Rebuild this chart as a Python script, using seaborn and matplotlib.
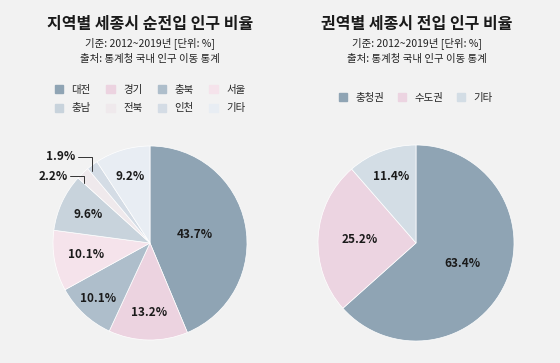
import numpy as np
import matplotlib
matplotlib.use('Agg')
import matplotlib.pyplot as plt
import matplotlib.patches as mpatches
import seaborn as sns

# data
left_title = '지역별 세종시 순전입 인구 비율'
right_title = '권역별 세종시 전입 인구 비율'
sub1 = '기준: 2012~2019년 [단위: %]'
sub2 = '출처: 통계청 국내 인구 이동 통계'

regions = ['대전', '경기', '충북', '서울', '충남', '전북', '인천', '기타']
region_pct = [43.7, 13.2, 10.1, 10.1, 9.6, 2.2, 1.9, 9.2]
region_colors = ['#8fa4b4', '#ecd3e0', '#aebecb', '#f5e3eb',
                 '#c8d3dc', '#efe9ec', '#d4dce5', '#e8edf3']

areas = ['충청권', '수도권', '기타']
area_pct = [63.4, 25.2, 11.4]
area_colors = ['#8fa4b4', '#ecd4e1', '#d3dde5']

bg = '#f2f2f2'
sns.set_theme(style='white', rc={'figure.facecolor': bg, 'axes.facecolor': bg})
plt.rcParams['font.family'] = ['Noto Sans CJK KR', 'DejaVu Sans']

fig = plt.figure(figsize=(5.6, 3.63), dpi=100)


def draw_pie(ax, vals, colors, label_r, small=()):
    ax.pie(vals, colors=colors, startangle=90, counterclock=False,
           wedgeprops=dict(edgecolor='white', linewidth=0.5))
    ax.set_xlim(-1, 1)
    ax.set_ylim(-1, 1)
    ax.set_aspect('equal')
    cum = np.cumsum([0] + list(vals))
    for i, v in enumerate(vals):
        if i in small:
            continue
        mid = 90 - 360 * (cum[i] + v / 2) / 100
        r = label_r[i]
        ax.text(r * np.cos(np.radians(mid)), r * np.sin(np.radians(mid)),
                f'{v}%', ha='center', va='center', fontsize=8.5,
                fontweight='bold', color='#1a1a1a')


# left pie
ax1 = fig.add_axes([(150 - 97) / 560, (363 - 340) / 363, 194 / 560, 194 / 363])
draw_pie(ax1, region_pct, region_colors,
         [0.47, 0.72, 0.78, 0.67, 0.70, 0, 0, 0.72], small=(5, 6))
# leader labels for the two thin slices
for idx, (tx, ty, lx, ly) in {6: (-0.77, 0.89, -0.60, 0.74),
                              5: (-0.85, 0.69, -0.68, 0.62)}.items():
    ax1.text(tx, ty, f'{region_pct[idx]}%', ha='right', va='center',
             fontsize=8.5, fontweight='bold', color='#1a1a1a')
    ax1.plot([tx + 0.03, lx, lx], [ty, ty, ly], color='#333333', lw=0.7,
             clip_on=False)

# right pie
ax2 = fig.add_axes([318 / 560, (363 - 341) / 363, 196 / 560, 196 / 363])
draw_pie(ax2, area_pct, area_colors, [0.52, 0.58, 0.72])

# titles
for cx, t in [(150, left_title), (417, right_title)]:
    fig.text(cx / 560, 1 - 24 / 363, t, ha='center', va='center',
             fontsize=11.5, fontweight='bold', color='#1a1a1a')
    fig.text(cx / 560, 1 - 43 / 363, sub1, ha='center', va='center',
             fontsize=7.5, color='#222222')
    fig.text(cx / 560, 1 - 59 / 363, sub2, ha='center', va='center',
             fontsize=7.5, color='#222222')

# legends (matplotlib fills columns first, so reorder to read row-wise)
h1 = [mpatches.Patch(color=c, label=l) for l, c in zip(regions, region_colors)]
h1 = [h1[i] for i in (0, 4, 1, 5, 2, 6, 3, 7)]
fig.legend(handles=h1, ncol=4, loc='center', bbox_to_anchor=(150 / 560, 1 - 99 / 363),
           frameon=False, fontsize=7.5, handlelength=0.8, handleheight=0.8,
           columnspacing=1.5, handletextpad=0.8, labelspacing=0.8)
h2 = [mpatches.Patch(color=c, label=l) for l, c in zip(areas, area_colors)]
fig.legend(handles=h2, ncol=3, loc='center', bbox_to_anchor=(416 / 560, 1 - 98 / 363),
           frameon=False, fontsize=7.5, handlelength=0.8, handleheight=0.8,
           columnspacing=1.3, handletextpad=0.8)

fig.savefig('out.png', dpi=100, facecolor=bg)
